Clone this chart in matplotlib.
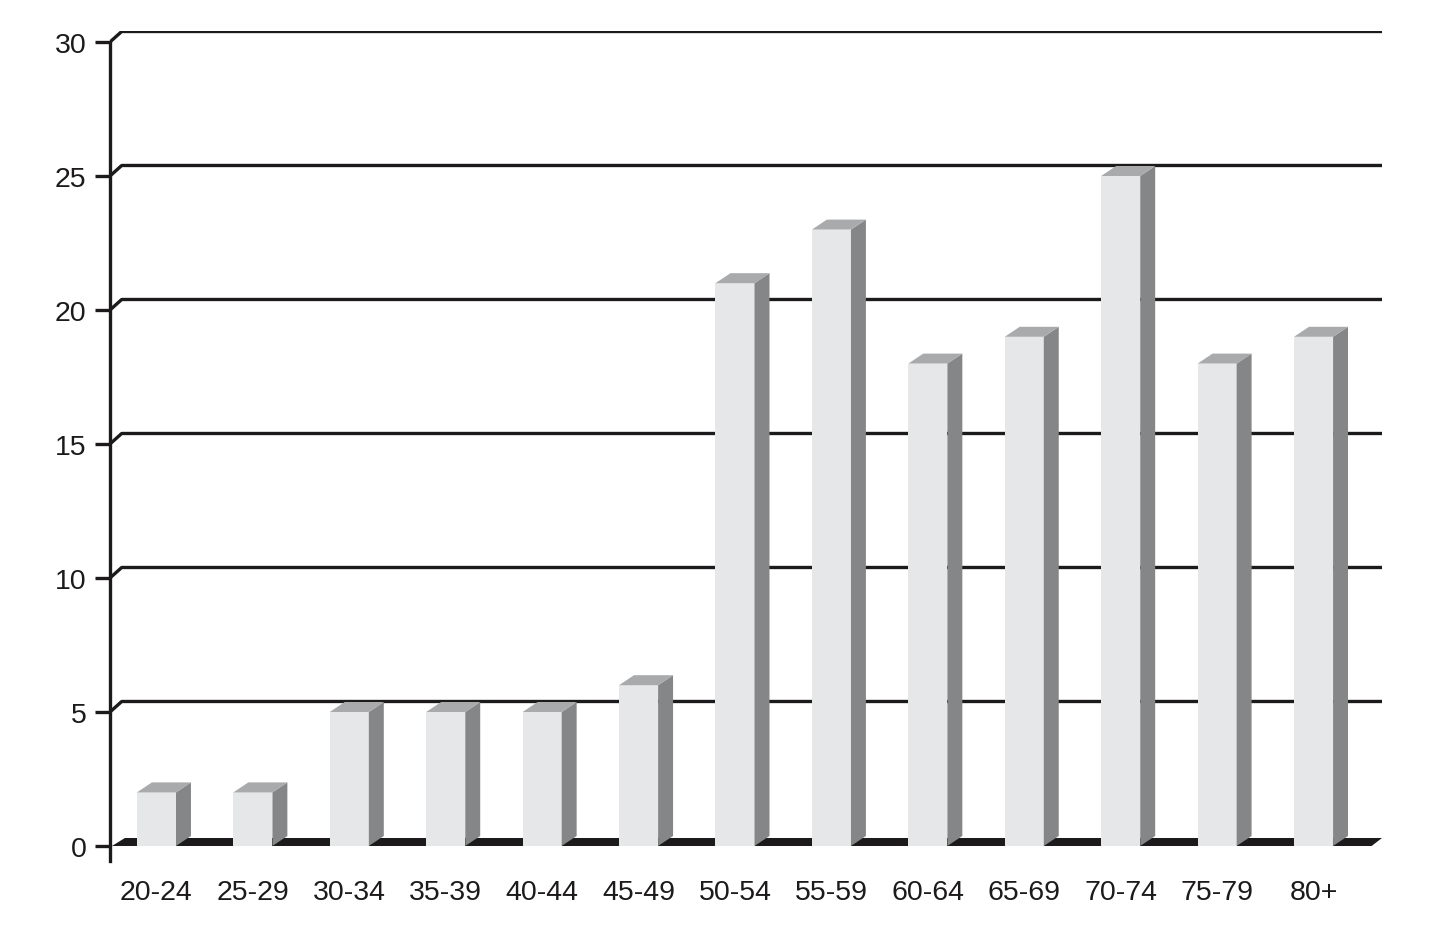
import matplotlib
matplotlib.use("Agg")
import matplotlib.pyplot as plt
from matplotlib.patches import Polygon

# data
age_groups = ["20-24", "25-29", "30-34", "35-39", "40-44", "45-49", "50-54",
              "55-59", "60-64", "65-69", "70-74", "75-79", "80+"]
counts = [2, 2, 5, 5, 5, 6, 21, 23, 18, 19, 25, 18, 19]
y_ticks = [0, 5, 10, 15, 20, 25, 30]

plt.rcParams['font.family'] = ['Liberation Sans', 'DejaVu Sans']

FRONT = "#e6e7e8"
SIDE = "#858688"
TOP = "#a9aaac"
INK = "#1c1a1b"

fig = plt.figure(figsize=(14.45, 9.45), dpi=100)
ax = fig.add_axes([110 / 1445, 1 - 862 / 945, 1272 / 1445, 830 / 945])

x0, x1 = -0.482, 12.71
y0, y1 = -0.56, 30.41
ax.set_xlim(x0, x1)
ax.set_ylim(y0, y1)

# depth offset of the fake 3d effect, in data units
dx = 13 / 96.4
dy = 10 / 26.8
half = 0.2025

# back grid lines with the little diagonal at the wall
for v in y_ticks[1:]:
    ax.plot([x0, x0 + dx * 0.9, x1], [v, v + dy * 1.05, v + dy * 1.05],
            color=INK, lw=2.4, solid_capstyle="butt", zorder=1)

# floor
floor = Polygon([(x0 + 0.02, 0), (x0 + 0.02 + dx, dy * 0.8),
                 (x1, dy * 0.8), (x1 - dx * 0.8, 0)],
                closed=True, facecolor=INK, edgecolor="none", zorder=2)
ax.add_patch(floor)

for i, c in enumerate(counts):
    l, r = i - half, i + half
    ax.add_patch(Polygon([(l, 0), (r, 0), (r, c), (l, c)],
                         facecolor=FRONT, edgecolor="none", zorder=3))
    ax.add_patch(Polygon([(r, 0), (r + dx * 1.15, dy), (r + dx * 1.15, c + dy), (r, c)],
                         facecolor=SIDE, edgecolor="none", zorder=3))
    ax.add_patch(Polygon([(l, c), (r, c), (r + dx * 1.15, c + dy), (l + dx * 1.15, c + dy)],
                         facecolor=TOP, edgecolor="none", zorder=3))

# y axis line
ax.plot([x0, x0], [y0, 30], color=INK, lw=2.4, clip_on=False, zorder=4)

for s in ax.spines.values():
    s.set_visible(False)

ax.set_yticks(y_ticks)
ax.set_yticklabels([str(t) for t in y_ticks])
ax.tick_params(axis="y", direction="out", length=11, width=2.4, color=INK,
               pad=6, labelsize=20.5, labelcolor=INK)
ax.set_xticks(range(len(age_groups)))
ax.set_xticklabels(age_groups)
ax.tick_params(axis="x", length=0, pad=13, labelsize=20.5, labelcolor=INK)

fig.savefig("out.png", dpi=100, facecolor="white")
